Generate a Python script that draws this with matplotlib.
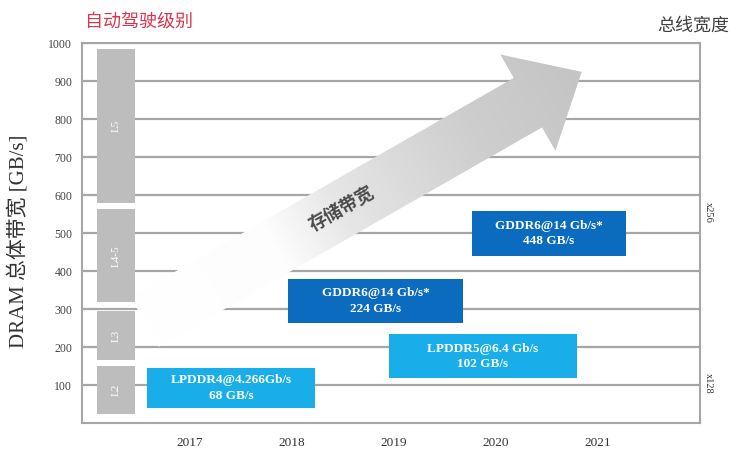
import numpy as np
import matplotlib
matplotlib.use("Agg")
import matplotlib.pyplot as plt
from matplotlib.patches import Rectangle, Polygon
from matplotlib.colors import LinearSegmentedColormap

SERIF = "Liberation Serif"
CJK = ["Liberation Serif", "Noto Sans CJK SC"]

years = [2017, 2018, 2019, 2020, 2021]

# autonomous driving levels and the bandwidth range each one needs
levels = ["L2", "L3", "L4-5", "L5"]
level_low = [25, 165, 318, 580]
level_high = [150, 295, 562, 985]

# memory configurations
memory = ["LPDDR4@4.266Gb/s", "GDDR6@14 Gb/s*", "LPDDR5@6.4 Gb/s", "GDDR6@14 Gb/s*"]
bandwidth = [68, 224, 102, 448]

# where the memory boxes sit (year, GB/s) and how big they are
box_x = [2017.40, 2018.82, 2019.87, 2020.52]
box_y = [92, 321, 176, 498]
box_w = [1.65, 1.72, 1.84, 1.51]
box_h = [106, 116, 116, 119]
box_color = ["#19aee9", "#0b6cbf", "#19aee9", "#0b6cbf"]

bus_width = ["x256", "x128"]
bus_y = [553, 105]

XLIM = (2015.94, 2022.0)
YLIM = (0, 1000)

fig = plt.figure(figsize=(7.3, 4.5), dpi=100)
ax = fig.add_axes([82 / 730, 27 / 450, 618 / 730, 380 / 450])
ax.set_xlim(*XLIM)
ax.set_ylim(*YLIM)

# horizontal grid
for v in range(100, 1001, 100):
    ax.axhline(v, color="#a6a6a6", lw=1.6, zorder=1)

# big trend arrow, built in display space so the angle stays right
tail = np.array([2016.555, 266.0])
tip = np.array([2020.84, 924.0])
p0 = ax.transData.transform(tail)
p1 = ax.transData.transform(tip)
d = p1 - p0
length = np.hypot(*d)
u = d / length
n = np.array([-u[1], u[0]])
half, head_half, head_len = 28.5, 55.5, 62.0
base = p1 - u * head_len
outline = np.array([
    p0 + n * half, base + n * half, base + n * head_half, p1,
    base - n * head_half, base - n * half, p0 - n * half,
])
outline_ax = ax.transAxes.inverted().transform(outline)
arrow = Polygon(outline_ax, closed=True, transform=ax.transAxes,
                facecolor="none", edgecolor="none")
ax.add_patch(arrow)

nx, ny = 618, 380
gx, gy = np.meshgrid((np.arange(nx) + 0.5) / nx, (np.arange(ny) + 0.5) / ny)
disp = ax.transAxes.transform(np.column_stack([gx.ravel(), gy.ravel()]))
t = (((disp - p0) @ u) / length).reshape(ny, nx)
fade = LinearSegmentedColormap.from_list(
    "fade", [(0.0, "#ffffff"), (0.30, "#fdfdfd"), (0.45, "#e6e6e6"),
             (0.75, "#cecece"), (1.0, "#c4c4c4")])
img = ax.imshow(t, cmap=fade, vmin=0, vmax=1, extent=(0, 1, 0, 1),
                transform=ax.transAxes, origin="lower", aspect="auto",
                interpolation="bilinear", zorder=2)
img.set_clip_path(arrow)
ax.set_xlim(*XLIM)
ax.set_ylim(*YLIM)

angle = np.degrees(np.arctan2(d[1], d[0]))
ax.text(2018.49, 562, "存储带宽", rotation=angle, rotation_mode="anchor",
        ha="center", va="center", family=CJK, fontsize=13, weight="bold",
        color="#4a4a4a", zorder=3)

# level bars
lo = np.array(level_low)
hi = np.array(level_high)
ax.bar(2016.275, hi - lo, bottom=lo, width=0.37, color="#bdbdbd", zorder=3)
for name, a, b in zip(levels, lo, hi):
    ax.text(2016.275, (a + b) / 2, name, rotation=90, color="white",
            fontsize=8, family=SERIF, ha="center", va="center", zorder=4)

# memory boxes
for m, bw, x, y, w, h, c in zip(memory, bandwidth, box_x, box_y, box_w, box_h, box_color):
    ax.add_patch(Rectangle((x - w / 2, y - h / 2), w, h, facecolor=c,
                           edgecolor="none", zorder=4))
    ax.text(x, y, f"{m}\n{bw} GB/s", color="white", fontsize=9.5,
            weight="bold", family=SERIF, ha="center", va="center",
            linespacing=1.35, zorder=5)

# bus width marks on the right side
for lab, y in zip(bus_width, bus_y):
    ax.text(1.013, y, lab, transform=ax.get_yaxis_transform(), rotation=270,
            fontsize=7.5, family=SERIF, color="#333333",
            ha="center", va="center")

ax.set_xticks(years)
ax.set_xticklabels([str(y) for y in years], family=SERIF)
ax.set_yticks(range(100, 1001, 100))
ax.set_yticklabels([str(v) for v in range(100, 1001, 100)], family=SERIF)
ax.tick_params(axis="x", length=0, labelsize=9.5, pad=10, colors="#333333")
ax.tick_params(axis="y", length=0, labelsize=8.5, pad=7, colors="#444444")
for sp in ax.spines.values():
    sp.set_color("#a6a6a6")
    sp.set_linewidth(1.5)

ax.set_ylabel("DRAM 总体带宽 [GB/s]", family=CJK, fontsize=15, color="#333333")
ax.yaxis.set_label_coords(-0.087, 0.479)

fig.text(85 / 730, 1 - 22 / 450, "自动驾驶级别", family=CJK, fontsize=13,
         color="#d9364f", ha="left", va="center")
fig.text(729 / 730, 1 - 26 / 450, "总线宽度", family=CJK, fontsize=13,
         color="#404040", ha="right", va="center")

fig.savefig("out.png", dpi=100)
